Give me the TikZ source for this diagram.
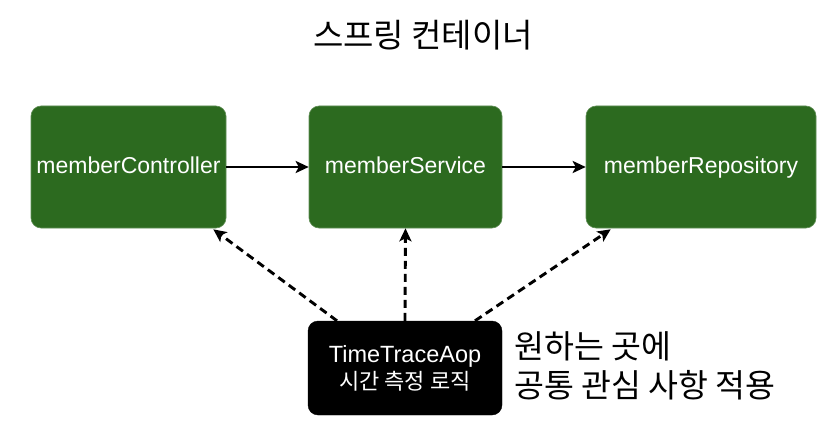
\documentclass[tikz,border=0pt]{standalone}
\usepackage{fontspec}
\setmainfont{Liberation Sans}
\newfontfamily\kr{Noto Sans CJK KR}
\usetikzlibrary{arrows.meta,calc}
\definecolor{boxgreen}{RGB}{44,106,31}
\begin{document}
\begin{tikzpicture}[x=1pt,y=-1pt,
  gbox/.style={fill=boxgreen, draw=boxgreen!75!white, line width=0.6pt, rounded corners=10pt,
    inner sep=0pt, text=white, font=\fontsize{23}{27}\selectfont, minimum height=122pt,
    text height=16.5pt, text depth=4.5pt},
  kbox/.style={fill=black, draw=black, rounded corners=10pt, inner sep=0pt, text=white,
    minimum width=194pt, minimum height=94pt, align=center},
  flow/.style={line width=2.9pt, -{Stealth[length=13pt,width=12pt,inset=3pt]}},
  aspect/.style={line width=2.9pt, dash pattern=on 8pt off 5pt, -{Stealth[length=13pt,width=12pt,inset=3pt]}},
  note/.style={inner sep=0pt, align=left, font=\kr\fontsize{32.5}{39}\selectfont}
]
\useasboundingbox (0,0) rectangle (839,428);
\node[inner sep=0pt, font=\kr\fontsize{33}{38}\selectfont] (title) at (423,35) {스프링 컨테이너};

\node[gbox, minimum width=195pt] (ctrl) at (128.5,167) {memberController};
\node[gbox, minimum width=193pt] (svc) at (405.5,167) {memberService};
\node[gbox, minimum width=230pt] (repo) at (701,167) {memberRepository};

\node[kbox] (aop) at (405,368) {\fontsize{23.5}{28}\selectfont TimeTraceAop\\[3pt]{\kr\fontsize{22}{28}\selectfont 시간 측정 로직}};

\node[note, anchor=west] (txt) at (514,366) {원하는 곳에\\공통 관심 사항 적용};

\draw[flow] (ctrl.east) -- (svc.west);
\draw[flow] (svc.east) -- (repo.west);

\coordinate (a1) at ($(aop.north)+(-68,0)$);
\coordinate (a3) at ($(aop.north)+(70,0)$);
\coordinate (t1) at ($(ctrl.south east)+(-13,1)$);
\coordinate (t3) at ($(repo.south west)+(25,1)$);
\draw[aspect] (a1) -- (t1);
\draw[aspect] (aop.north) -- (svc.south);
\draw[aspect] (a3) -- (t3);
\end{tikzpicture}
\end{document}
